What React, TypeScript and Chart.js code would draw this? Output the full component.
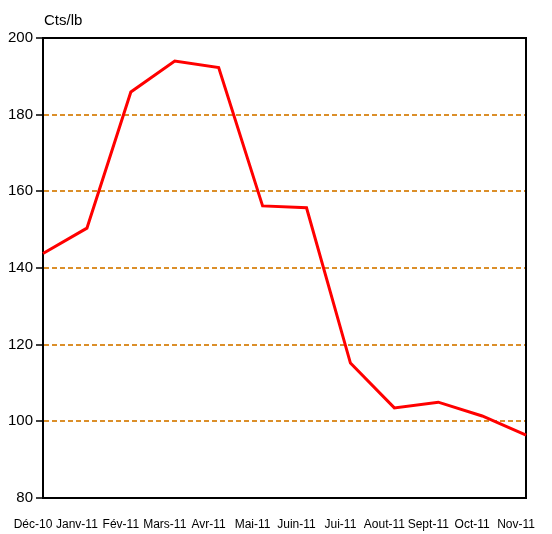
import React, { useEffect, useRef } from "react";
import { Chart, registerables } from "chart.js";

Chart.register(...registerables);

const months = ["Déc-10", "Janv-11", "Fév-11", "Mars-11", "Avr-11", "Mai-11", "Juin-11", "Jui-11", "Aout-11", "Sept-11", "Oct-11", "Nov-11"];
const prices = [143.8, 150.4, 185.9, 194.0, 192.3, 156.2, 155.7, 115.2, 103.5, 105.0, 101.4, 96.4];
const unitLabel = "Cts/lb";
const yMin = 80;
const yMax = 200;
const yStep = 20;

const unitPlugin = {
  id: "unitLabel",
  afterDraw(chart: any) {
    const { ctx, chartArea } = chart;
    ctx.save();
    ctx.fillStyle = "#000";
    ctx.font = "15px 'Liberation Sans', Arial, sans-serif";
    ctx.textAlign = "left";
    ctx.textBaseline = "alphabetic";
    ctx.fillText(unitLabel, chartArea.left + 1, 25);
    ctx.restore();
  },
};

export default function App() {
  const ref = useRef<HTMLCanvasElement>(null);
  useEffect(() => {
    if (!ref.current) return;
    const chart = new Chart(ref.current, {
      type: "line",
      data: {
        labels: months,
        datasets: [
          {
            data: prices,
            borderColor: "#FF0000",
            borderWidth: 3,
            pointRadius: 0,
            tension: 0,
            fill: false,
          },
        ],
      },
      plugins: [unitPlugin],
      options: {
        animation: false,
        responsive: false,
        layout: { padding: { top: 38, right: 24, left: 0, bottom: 0 } },
        plugins: { legend: { display: false }, tooltip: { enabled: false } },
        scales: {
          x: {
            type: "category",
            position: "bottom",
            grid: { display: true, drawOnChartArea: false, drawTicks: true, tickLength: 12, color: "transparent" },
            border: { display: true, color: "#000", width: 2 },
            ticks: {
              autoSkip: false,
              maxRotation: 0,
              minRotation: 0,
              padding: 7,
              labelOffset: -10,
              color: "#000",
              font: { family: "'Liberation Sans', Arial, sans-serif", size: 12 },
            },
            afterFit: (s: any) => { s.height = 36; },
          },
          x2: {
            type: "linear",
            position: "top",
            grid: { display: false },
            ticks: { display: false },
            border: { display: true, color: "#000", width: 2 },
            afterFit: (s: any) => { s.height = 0; },
          },
          y: {
            type: "linear",
            min: yMin,
            max: yMax,
            ticks: {
              stepSize: yStep,
              padding: 3,
              color: "#000",
              font: { family: "'Liberation Sans', Arial, sans-serif", size: 15 },
            },
            grid: {
              color: (c: any) => (c.tick && (c.tick.value === yMin || c.tick.value === yMax) ? "transparent" : "#DB8F2A"),
              lineWidth: 2,
              tickColor: "#000",
              tickLength: 7,
              tickWidth: 1.5,
              tickBorderDash: [],
            },
            border: { display: true, color: "#000", width: 2, dash: [5, 3] },
            afterFit: (s: any) => { s.width = 43; },
          },
          y2: {
            type: "linear",
            position: "right",
            grid: { display: false },
            ticks: { display: false },
            border: { display: true, color: "#000", width: 2 },
            afterFit: (s: any) => { s.width = 0; },
          },
        },
      },
    });
    return () => chart.destroy();
  }, []);
  return (
    <div style={{ position: "absolute", left: 0, top: 0, width: 552, height: 534, background: "#fff" }}>
      <canvas ref={ref} width={552} height={534} style={{ display: "block" }} />
    </div>
  );
}
